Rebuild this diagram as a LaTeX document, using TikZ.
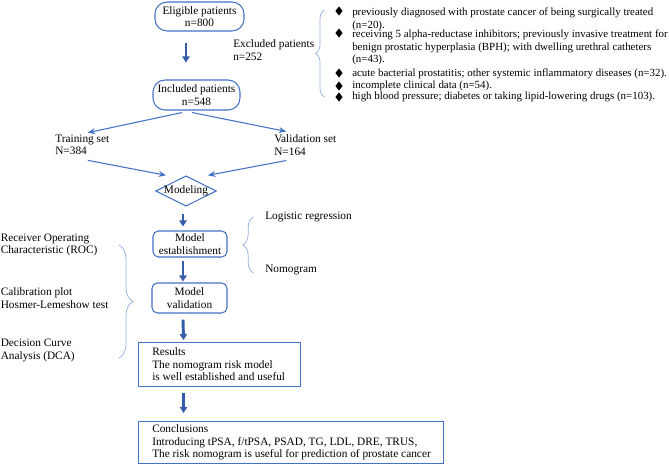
\documentclass[tikz,border=0pt]{standalone}
\usepackage{fontspec}
\setmainfont{Liberation Serif}
\usepackage{tikz}
\usetikzlibrary{arrows.meta, positioning, calc, shapes.geometric, decorations.pathreplacing}
\usepackage{xcolor}

\definecolor{boxblue}{RGB}{68,114,196}
\definecolor{arrowblue}{RGB}{52,92,170}
\definecolor{braceblue}{RGB}{150,176,222}
\newcommand{\figfont}{\fontsize{8.5}{9.4}\selectfont}
\newcommand{\itemfont}{\fontsize{8.2}{9.5}\selectfont}

\tikzset{
  txt/.style={inner sep=0pt, align=left, font=\figfont},
  itemtxt/.style={inner sep=0pt, align=left, anchor=west, font=\itemfont},
  pill/.style={draw=boxblue, line width=0.8pt, rounded corners=9pt, align=center, inner sep=0pt, font=\figfont},
  roundbox/.style={draw=boxblue, line width=0.8pt, rounded corners=4pt, align=center, inner sep=0pt, font=\figfont},
  plainbox/.style={draw=boxblue, line width=0.8pt, inner sep=0pt, anchor=north west},
  bigarrow/.style={arrowblue, line width=2.2pt, -{Triangle[width=5.5pt,length=4.5pt]}},
  thinarrow/.style={boxblue, line width=0.8pt, -{Stealth[width=4.5pt,length=5.5pt]}},
  brc/.style={braceblue, line width=0.55pt, decorate},
  bullet/.style={diamond, fill=black, inner sep=0pt, minimum width=5.5pt, minimum height=7pt}
}

\begin{document}
\begin{tikzpicture}[x=0.75pt, y=-0.75pt]
  \useasboundingbox (0,0) rectangle (669,465);

  % main flow
  \node[pill, minimum width=66.75pt, minimum height=21.75pt] (elig) at (199.5,16.5) {Eligible patients\\n=800};
  \node[pill, minimum width=65.25pt, minimum height=22.5pt] (incl) at (196.5,95) {Included patients\\n=548};
  \node[txt, anchor=west] (train) at (55,145) {Training set\\N=384};
  \node[txt, anchor=west] (valid) at (274,145) {Validation set\\N=164};
  \node[diamond, draw=boxblue, line width=0.8pt, aspect=2, inner sep=-0.5pt, font=\figfont] (modeling) at (186,191) {Modeling};
  \node[roundbox, minimum width=55.5pt, minimum height=19.5pt] (establish) at (190,244) {Model\\establishment};
  \node[roundbox, minimum width=56.25pt, minimum height=22.5pt] (validation) at (189.5,298) {Model\\validation};
  \node[plainbox, minimum width=121.5pt, minimum height=33pt] (results) at (138,342) {};
  \node[txt, anchor=west] (resultstext) at ($(results.west)+(14,0)$) {Results\\The nomogram risk model\\is well established and useful};
  \node[plainbox, minimum width=228.75pt, minimum height=31.5pt] (concl) at (138,421) {};
  \node[txt, anchor=west] (concltext) at ($(concl.west)+(14,0)$) {Conclusions\\Introducing tPSA, f/tPSA, PSAD, TG, LDL, DRE, TRUS,\\The risk nomogram is useful for prediction of prostate cancer};

  % exclusions
  \node[txt, anchor=west] (excl) at (233,50) {Excluded patients\\n=252};
  \node[itemtxt] (item1) at (352,19) {previously diagnosed with prostate cancer of being surgically treated\\(n=20).};
  \node[itemtxt] (item2) at (352,47.5) {receiving 5 alpha-reductase inhibitors; previously invasive treatment for\\benign prostatic hyperplasia (BPH); with dwelling urethral catheters\\(n=43).};
  \node[itemtxt] (item3) at (352,74) {acute bacterial prostatitis; other systemic inflammatory diseases (n=32).};
  \node[itemtxt] (item4) at (352,86) {incomplete clinical data (n=54).};
  \node[itemtxt] (item5) at (352,97) {high blood pressure; diabetes or taking lipid-lowering drugs (n=103).};
  \foreach \y [count=\i] in {11,33,73,86,97}
    \node[bullet] (dot\i) at (339,\y) {};

  % side notes
  \node[txt, anchor=west] (logit) at (265,217) {Logistic regression};
  \node[txt, anchor=west] (nomo) at (265,270) {Nomogram};
  \node[txt, anchor=west] (roc) at (0.5,245) {Receiver Operating\\Characteristic (ROC)};
  \node[txt, anchor=west] (calib) at (0.5,298) {Calibration plot\\Hosmer-Lemeshow test};
  \node[txt, anchor=west] (dca) at (0.5,350.5) {Decision Curve\\Analysis (DCA)};

  % braces
  \draw[brc, decoration={brace, amplitude=6.75pt}] (324.5,97) -- (324.5,10);
  \draw[brc, decoration={brace, amplitude=8pt}] (253.5,273) -- (253.5,217);
  \draw[brc, decoration={brace, amplitude=10.5pt}] (119,245) -- (119,358);

  % arrows
  \draw[bigarrow] ($(elig.south)+(-13.5,11)$) -- ($(incl.north)+(-10.5,-17)$);
  \draw[thinarrow] ($(incl.south)+(-14.5,2)$) -- ($(train.north)+(5.5,-2)$);
  \draw[thinarrow] ($(incl.south)+(-4.5,2)$) -- ($(valid.north)+(-19,-3)$);
  \draw[thinarrow] ($(train.south)+(5.5,5)$) -- ($(modeling.north)+(-20,0)$);
  \draw[thinarrow] ($(valid.south)+(-19,5)$) -- ($(modeling.north)+(22,0)$);
  \draw[bigarrow] ($(modeling.south)+(-3,7)$) -- ($(establish.north)+(-7,-4)$);
  \draw[bigarrow] ($(establish.south)+(-7,3)$) -- ($(validation.north)+(-6.5,-1)$);
  \draw[bigarrow] ($(validation.south)+(-6.5,6)$) -- ($(results.north)+(-36,-2)$);
  \draw[bigarrow] ($(results.south)+(-36,6)$) -- ($(concl.north)+(-107.5,-8)$);
\end{tikzpicture}
\end{document}
